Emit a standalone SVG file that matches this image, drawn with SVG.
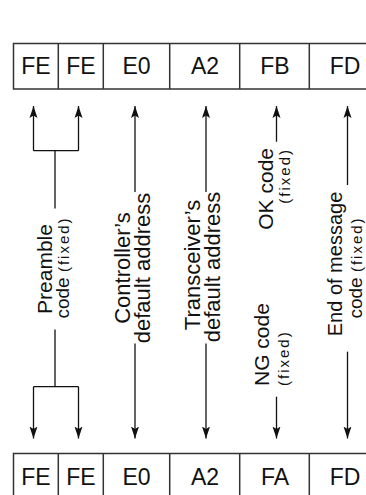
<svg xmlns="http://www.w3.org/2000/svg" width="366" height="495" viewBox="0 0 366 495">
<style>
  .box { fill: #fff; stroke: #333; stroke-width: 1.5; }
  .div { stroke: #333; stroke-width: 1.5; }
  .hex { font-family: "Liberation Sans", Arial, sans-serif; font-size: 23px; fill: #111; text-anchor: middle; }
  .lbl { font-family: "Liberation Sans", Arial, sans-serif; font-size: 21px; fill: #111; }
  .big { font-size: 22px; }
  .mid { text-anchor: middle; }
  .sm { font-size: 19px; }
  .fx { font-size: 15px; letter-spacing: 2px; }
  .ln { fill: none; stroke: #111; stroke-width: 1.3; }
  .arr { marker-end: url(#ah); }
</style>
<defs>
  <marker id="ah" markerUnits="userSpaceOnUse" markerWidth="13" markerHeight="10" viewBox="0 -5 13 10" refX="12" refY="0" orient="auto">
    <path d="M12,0 L0,-4 L2.5,0 L0,4 Z" fill="#111"/>
  </marker>
</defs>

<g id="top-frame">
  <rect class="box" x="13.5" y="43.5" width="375" height="45.5"/>
  <line class="div" x1="58.3" y1="43.5" x2="58.3" y2="89"/>
  <line class="div" x1="103.3" y1="43.5" x2="103.3" y2="89"/>
  <line class="div" x1="169.7" y1="43.5" x2="169.7" y2="89"/>
  <line class="div" x1="239.7" y1="43.5" x2="239.7" y2="89"/>
  <line class="div" x1="309.3" y1="43.5" x2="309.3" y2="89"/>
  <text class="hex" x="36" y="74">FE</text>
  <text class="hex" x="81" y="74">FE</text>
  <text class="hex" x="136.5" y="74">E0</text>
  <text class="hex" x="205" y="74">A2</text>
  <text class="hex" x="275" y="74">FB</text>
  <text class="hex" x="345" y="74">FD</text>
</g>

<g id="bottom-frame">
  <rect class="box" x="13.5" y="453.5" width="375" height="60"/>
  <line class="div" x1="58.3" y1="453.5" x2="58.3" y2="500"/>
  <line class="div" x1="103.3" y1="453.5" x2="103.3" y2="500"/>
  <line class="div" x1="169.7" y1="453.5" x2="169.7" y2="500"/>
  <line class="div" x1="239.7" y1="453.5" x2="239.7" y2="500"/>
  <line class="div" x1="309.3" y1="453.5" x2="309.3" y2="500"/>
  <text class="hex" x="36" y="484.5">FE</text>
  <text class="hex" x="81" y="484.5">FE</text>
  <text class="hex" x="136.5" y="484.5">E0</text>
  <text class="hex" x="205" y="484.5">A2</text>
  <text class="hex" x="275" y="484.5">FA</text>
  <text class="hex" x="345" y="484.5">FD</text>
</g>

<g id="connectors">
  <path class="ln" d="M33.5,150.7 H78.5 M55,150.7 V208.5"/>
  <path class="ln arr" d="M33.5,150.7 V106"/>
  <path class="ln arr" d="M78.5,150.7 V106"/>
  <path class="ln" d="M55,329.5 V386.7 M33.5,386.7 H78.5"/>
  <path class="ln arr" d="M33.5,386.7 V438.5"/>
  <path class="ln arr" d="M78.5,386.7 V438.5"/>
  <path class="ln arr" d="M135,192 V106"/>
  <path class="ln arr" d="M135,343.5 V438.5"/>
  <path class="ln arr" d="M206,192 V106"/>
  <path class="ln arr" d="M206,343.5 V438.5"/>
  <path class="ln arr" d="M276.5,141.7 V106"/>
  <path class="ln arr" d="M276.5,396.7 V438.5"/>
  <path class="ln arr" d="M347.5,185 V106"/>
  <path class="ln arr" d="M347.5,351.7 V438.5"/>
</g>

<g id="preamble">
  <text class="lbl mid" transform="translate(51.5,269) rotate(-90)">Preamble</text>
  <text class="lbl mid sm" transform="translate(69,267.5) rotate(-90)">code <tspan class="fx">(fixed)</tspan></text>
</g>
<g id="controller">
  <text class="lbl big mid" transform="translate(130,268) rotate(-90)">Controller’s</text>
  <text class="lbl big mid" transform="translate(150,268) rotate(-90)">default address</text>
</g>
<g id="transceiver">
  <text class="lbl big mid" transform="translate(200,265) rotate(-90)">Transceiver’s</text>
  <text class="lbl big mid" transform="translate(220,267) rotate(-90)">default address</text>
</g>
<g id="ok-code">
  <text class="lbl" text-anchor="end" transform="translate(273,148) rotate(-90)">OK code</text>
  <text class="lbl fx" text-anchor="end" transform="translate(290,148) rotate(-90)">(fixed)</text>
</g>
<g id="ng-code">
  <text class="lbl" transform="translate(269,386) rotate(-90)">NG code</text>
  <text class="lbl fx" transform="translate(289,386) rotate(-90)">(fixed)</text>
</g>
<g id="end-of-message">
  <text class="lbl mid" style="font-size:20px" transform="translate(342,264) rotate(-90)">End of message</text>
  <text class="lbl mid sm" transform="translate(362,267.5) rotate(-90)">code <tspan class="fx">(fixed)</tspan></text>
</g>
</svg>
